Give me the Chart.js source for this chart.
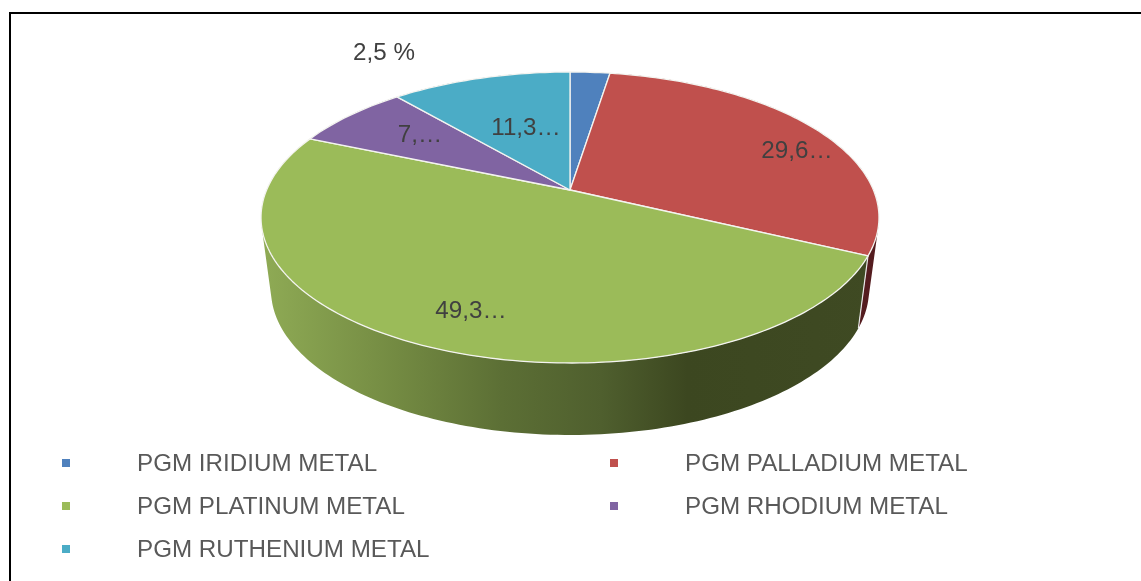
<!DOCTYPE html>
<html>
<head>
<meta charset="utf-8">
<title>PGM pie</title>
<script src="https://cdn.jsdelivr.net/npm/chart.js@4"></script>
<style>
    html, body { margin: 0; padding: 0; background: #fff; overflow: hidden; }
    #wrap { position: relative; width: 1141px; height: 581px; }
    #frame { position: absolute; left: 9px; top: 12px; right: 0; bottom: 0; border-left: 2px solid #000; border-top: 2px solid #000; }
    #pie { position: absolute; left: 0; top: 0; }
    .leg { position: absolute; font: 24.2px "Liberation Sans", Arial, sans-serif; color: #595959; line-height: 28px; white-space: nowrap; }
    .leg i { position: absolute; left: -75px; top: 10px; width: 8px; height: 8px; }
</style>
</head>
<body>
<div id="wrap">
    <div id="frame"></div>
    <canvas id="pie" width="1141" height="581"></canvas>
    <div id="legend"></div>
</div>
<script>
const categories = ['PGM IRIDIUM METAL', 'PGM PALLADIUM METAL', 'PGM PLATINUM METAL', 'PGM RHODIUM METAL', 'PGM RUTHENIUM METAL'];
const shares = [2.5, 29.6, 49.3, 7.3, 11.3];
const sliceLabels = ['2,5 %', '29,6…', '49,3…', '7,…', '11,3…'];
const sliceColors = ['#4F81BD', '#C0504D', '#9BBB59', '#8064A2', '#4BACC6'];
const sideColors = ['#2a4566', '#541c1f', '#3f4a23', '#44355a', '#286070'];

// label anchor (centre x, baseline y) for each slice
const labelX = [384, 797, 471, 420, 526];
const labelY = [60, 158, 318, 142, 135];

// legend cells: 2 columns, 3 rows
const legendX = [137, 685, 137, 685, 137];
const legendY = [449, 449, 492, 492, 535];

// pie is tilted in perspective, so the top and the underside are two projected circles
const topFace = { cx: 570, cy: 190, a: 303.4, b: 140.3, k: 0.189 };
const underFace = { cx: 570, cy: 262.6, a: 293.6, b: 139.8, k: 0.189 };

function project(face, angle) {
    const u = Math.cos(angle), v = Math.sin(angle);
    const w = 1 - face.k * v;
    return { x: face.cx + face.a * u / w, y: face.cy + face.b * v / w };
}

function arcPoints(face, start, end) {
    const steps = Math.max(2, Math.ceil((end - start) / 0.02));
    const pts = [];
    for (let i = 0; i <= steps; i++) {
        pts.push(project(face, start + (end - start) * i / steps));
    }
    return pts;
}

function tracePoints(ctx, pts) {
    pts.forEach(p => ctx.lineTo(p.x, p.y));
}

// same winding for every quad, so one nonzero fill gives their union without seams
function traceQuad(ctx, q) {
    let area = 0;
    q.forEach((p, i) => {
        const n = q[(i + 1) % 4];
        area += p.x * n.y - n.x * p.y;
    });
    const pts = area < 0 ? q.slice().reverse() : q;
    ctx.moveTo(pts[0].x, pts[0].y);
    tracePoints(ctx, pts.slice(1));
    ctx.closePath();
}

function frontGradient(ctx) {
    const g = ctx.createLinearGradient(261, 0, 879, 0);
    g.addColorStop(0, '#8fab55');
    g.addColorStop(0.22, '#738a42');
    g.addColorStop(0.39, '#5c6f35');
    g.addColorStop(0.55, '#4f5f2e');
    g.addColorStop(0.69, '#3c4720');
    g.addColorStop(1, '#3f4a23');
    return g;
}

const tiltedPie = {
    id: 'tiltedPie',
    beforeDatasetDraw(chart, args) {
        const ctx = chart.ctx;
        const arcs = chart.getDatasetMeta(args.index).data;
        ctx.save();
        ctx.lineJoin = 'round';

        // side walls
        arcs.forEach((arc, i) => {
            const upper = arcPoints(topFace, arc.startAngle, arc.endAngle);
            const lower = arcPoints(underFace, arc.startAngle, arc.endAngle);
            ctx.beginPath();
            for (let s = 0; s < upper.length - 1; s++) {
                traceQuad(ctx, [upper[s], upper[s + 1], lower[s + 1], lower[s]]);
            }
            ctx.fillStyle = i === 2 ? frontGradient(ctx) : sideColors[i];
            ctx.fill();
        });
        arcs.forEach(arc => {
            const a = project(topFace, arc.startAngle);
            const b = project(underFace, arc.startAngle);
            ctx.beginPath();
            ctx.moveTo(a.x, a.y);
            ctx.lineTo(b.x, b.y);
            ctx.strokeStyle = '#e8e8e8';
            ctx.lineWidth = 1.2;
            ctx.stroke();
        });

        // top face
        arcs.forEach((arc, i) => {
            ctx.beginPath();
            ctx.moveTo(topFace.cx, topFace.cy);
            tracePoints(ctx, arcPoints(topFace, arc.startAngle, arc.endAngle));
            ctx.closePath();
            ctx.fillStyle = sliceColors[i];
            ctx.fill();
            ctx.strokeStyle = '#f4f4f0';
            ctx.lineWidth = 1.3;
            ctx.stroke();
        });
        ctx.restore();
        return false;
    },
    afterDatasetsDraw(chart) {
        const ctx = chart.ctx;
        ctx.save();
        ctx.font = '24.2px "Liberation Sans", Arial, sans-serif';
        ctx.fillStyle = '#404040';
        ctx.textAlign = 'center';
        ctx.textBaseline = 'alphabetic';
        sliceLabels.forEach((t, i) => ctx.fillText(t, labelX[i], labelY[i]));
        ctx.restore();
    }
};

new Chart(document.getElementById('pie').getContext('2d'), {
    type: 'pie',
    data: {
        labels: categories,
        datasets: [{
            data: shares,
            backgroundColor: sliceColors
        }]
    },
    options: {
        responsive: false,
        animation: false,
        devicePixelRatio: 1,
        plugins: {
            legend: { display: false },
            tooltip: { enabled: false }
        }
    },
    plugins: [tiltedPie]
});

const legend = document.getElementById('legend');
categories.forEach((name, i) => {
    const d = document.createElement('div');
    d.className = 'leg';
    d.style.left = legendX[i] + 'px';
    d.style.top = legendY[i] + 'px';
    d.innerHTML = '<i style="background:' + sliceColors[i] + '"></i>' + name;
    legend.appendChild(d);
});
</script>
</body>
</html>
